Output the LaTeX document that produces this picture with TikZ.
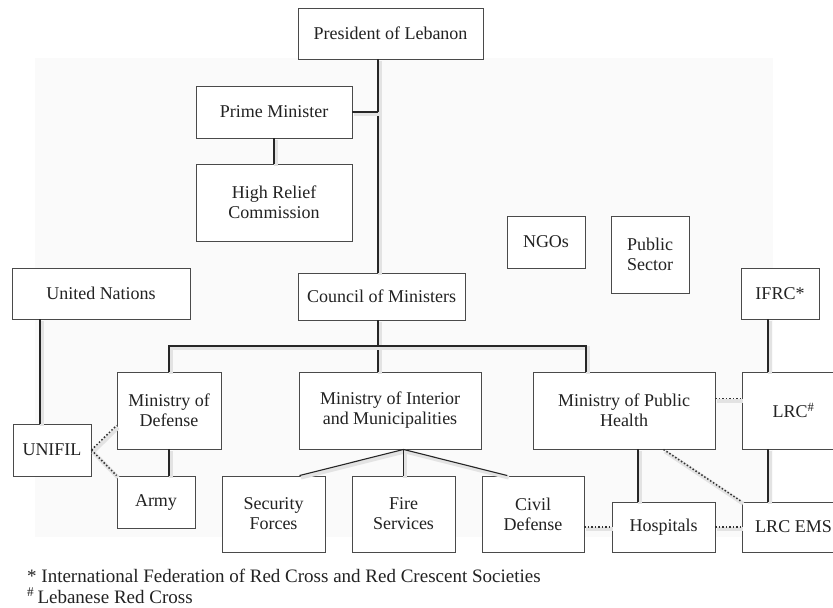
\documentclass[tikz,border=0pt]{standalone}
\usepackage{fontspec}
\setmainfont{Liberation Serif}
\usetikzlibrary{calc}
\definecolor{boxgray}{HTML}{4A4A4A}
\definecolor{pagegray}{HTML}{FAFAFA}
\definecolor{inkgray}{HTML}{222222}

\begin{document}
\begin{tikzpicture}[
  x=1pt, y=-1pt,
  font=\fontsize{18}{20}\selectfont,
  unit/.style={draw=boxgray, line width=0.9pt, fill=white, align=center,
    text=inkgray, inner sep=1pt},
  shade/.style={preaction={draw=black!11, solid, line width=4pt,
    transform canvas={shift={(1.5pt,-2pt)}}}},
  tie/.style={shade, line width=1.1pt, draw=black!85},
  loose/.style={shade, line width=1.5pt, draw=black!80, dotted},
  note/.style={anchor=base west, text=inkgray, inner sep=0pt,
    font=\fontsize{19}{21}\selectfont}
]
\useasboundingbox (0,0) rectangle (833,608);
\fill[pagegray] (35,58) rectangle (773,537);

% top of the chart
\node[unit, minimum width=185, minimum height=51] (president) at (390.5,33.5) {President of Lebanon};
\node[unit, minimum width=156, minimum height=52] (pm) at (274,112) {Prime Minister};
\node[unit, minimum width=156, minimum height=77] (hrc) at (274,202.5) {High Relief\\Commission};
\node[unit, minimum width=78, minimum height=52] (ngo) at (546,242) {NGOs};
\node[unit, minimum width=78, minimum height=77] (pubsec) at (650,254.5) {Public\\Sector};

% second row
\node[unit, minimum width=178, minimum height=51] (un) at (101,293.5) {United Nations};
\node[unit, minimum width=167, minimum height=47] (council) at (381.5,296.5) {Council of Ministers};
\node[unit, minimum width=78, minimum height=51] (ifrc) at (780,293.5) {IFRC*};

% ministries
\node[unit, minimum width=104, minimum height=77] (defense) at (169,410.5) {Ministry of\\Defense};
\node[unit, minimum width=182, minimum height=77] (interior) at (390,410.5) {Ministry of Interior\\and Municipalities};
\node[unit, minimum width=182, minimum height=77] (health) at (624,410.5) {Ministry of Public\\Health};
\node[unit, minimum width=103, minimum height=77] (lrc) at (793.5,410.5) {LRC\textsuperscript{\#}};

% field units
\node[unit, minimum width=78, minimum height=52] (unifil) at (52,450) {UNIFIL};
\node[unit, minimum width=78, minimum height=52] (army) at (156,502) {Army};
\node[unit, minimum width=103, minimum height=76] (secfor) at (273.5,514) {Security\\Forces};
\node[unit, minimum width=103, minimum height=76] (fire) at (403.5,514) {Fire\\Services};
\node[unit, minimum width=102, minimum height=76] (civdef) at (533,514) {Civil\\Defense};
\node[unit, minimum width=103, minimum height=50] (hosp) at (663.5,527) {Hospitals};
\node[unit, minimum width=103, minimum height=50] (ems) at (793.5,527) {LRC EMS};

\coordinate (spine) at (378,0);
\coordinate (bus) at (0,346);
\coordinate (busend) at (586,0);
\coordinate (medline) at (638,0);
\coordinate (redline) at (768,0);
\coordinate (secend) at ($(secfor.north west)!0.75!(secfor.north east)$);
\coordinate (civend) at ($(civdef.north west)!0.25!(civdef.north east)$);

% chain of command
\draw[tie] (council.north -| spine) -- (president.south -| spine);
\draw[tie] (pm.east) -- (pm.east -| spine);
\draw[tie] (pm.south) -- (hrc.north);
\draw[tie] (council.south -| spine) -- (interior.north -| spine);
\draw[tie] (defense.north) -- (defense.north |- bus) -- (bus -| busend) -- (health.north -| busend);
\draw[tie] ([xshift=-12pt]unifil.north) -- ([xshift=-12pt]unifil.north |- un.south);
\draw[tie] (defense.south) -- (defense.south |- army.north);
\foreach \dst in {secend,fire.north,civend}
  \draw[tie] (interior.south -| fire.north) -- (\dst);
\draw[tie] (health.south -| medline) -- (hosp.north -| medline);
\draw[tie] (ifrc.south -| redline) -- (lrc.north -| redline);
\draw[tie] (lrc.south -| redline) -- (ems.north -| redline);

% coordination links
\draw[loose] (unifil.east) -- ([yshift=24pt]defense.south west);
\draw[loose] (unifil.east) -- (army.north west);
\draw[loose] ([yshift=12pt]health.east) -- ([yshift=12pt]health.east -| lrc.west);
\draw[loose] (health.south -| hosp.north) -- (ems.north west);
\draw[loose] (hosp.west -| civdef.east) -- (hosp.west);
\draw[loose] (hosp.east) -- (ems.west);

% notes
\node[note] (note1) at (27,582) {* International Federation of Red Cross and Red Crescent Societies};
\node[note] (note2) at (27,603) {\textsuperscript{\#}\,Lebanese Red Cross};
\end{tikzpicture}
\end{document}
